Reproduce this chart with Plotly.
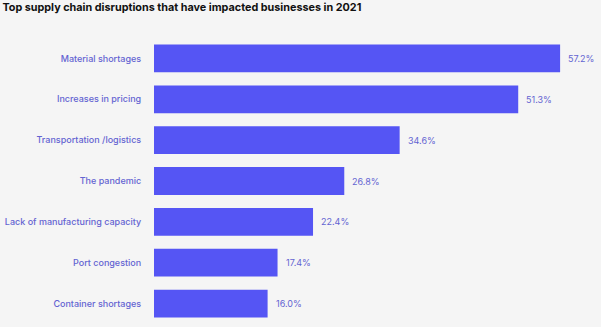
import plotly.graph_objects as go

categories = ["Material shortages", "Increases in pricing", "Transportation /logistics",
              "The pandemic", "Lack of manufacturing capacity", "Port congestion",
              "Container shortages"]
values = [57.2, 51.3, 34.6, 26.8, 22.4, 17.4, 16.0]
value_labels = [f"{v:.1f}%" for v in values]

bar_color = "#5555F4"
label_color = "#6464D2"
bg = "#F5F5F5"

fig = go.Figure(go.Bar(
    x=values, y=categories, orientation="h",
    marker=dict(color=bar_color, line=dict(width=0)),
    width=0.68,
    hoverinfo="skip",
))

for v, c, t in zip(values, categories, value_labels):
    fig.add_annotation(x=v, y=c, text=t, showarrow=False, xanchor="left",
                       xshift=6, font=dict(family="Inter", size=9, color=label_color))

fig.update_layout(
    width=601, height=327,
    margin=dict(l=154, r=0, t=37.5, b=2.5, autoexpand=False),
    paper_bgcolor=bg, plot_bgcolor=bg,
    showlegend=False,
    title=dict(text="<b>Top supply chain disruptions that have impacted businesses in 2021</b>",
               x=0.004, xanchor="left", y=0.988, yanchor="top",
               font=dict(family="Inter", size=10.8, color="#111111")),
    xaxis=dict(range=[0, 62.96], visible=False, fixedrange=True),
    yaxis=dict(categoryorder="array", categoryarray=categories[::-1],
               tickfont=dict(family="Inter", size=9, color=label_color, weight=500),
               ticks="outside", ticklen=10, tickcolor=bg, automargin=False,
               showline=False, showgrid=False, fixedrange=True),
)

fig.write_html("out.html")
